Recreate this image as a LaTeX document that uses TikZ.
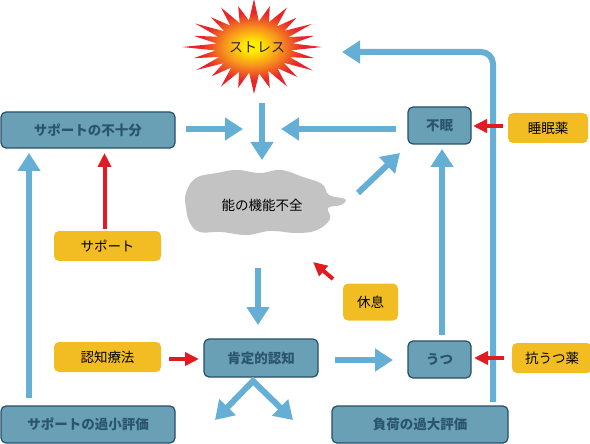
\documentclass[tikz,border=0pt]{standalone}
\usepackage{fontspec}
\setmainfont{Noto Sans CJK JP}
\usetikzlibrary{arrows.meta}
\definecolor{boxfill}{HTML}{6AA0B5}
\definecolor{boxline}{HTML}{24506C}
\definecolor{boxtext}{HTML}{2A5570}
\definecolor{arrblue}{HTML}{65AED6}
\definecolor{ylw}{HTML}{F2BD22}
\definecolor{redarr}{HTML}{E01B22}
\definecolor{cloudgray}{HTML}{C3C3C3}
\definecolor{burstred}{HTML}{E8262A}
\definecolor{burstorange}{HTML}{F7941D}
\definecolor{burstyellow}{HTML}{FFEA00}
\pgfdeclareradialshading{burst}{\pgfpoint{0bp}{0bp}}{color(0bp)=(burstyellow); color(3bp)=(burstyellow); color(10bp)=(burstorange); color(18bp)=(burstred); color(50bp)=(burstred)}
\tikzset{
  bluebox/.style={draw=boxline, line width=1.2pt, fill=boxfill, rounded corners=5pt, text=boxtext, font=\fontsize{13.5}{15}\selectfont\bfseries, inner sep=0pt},
  yelbox/.style={fill=ylw, rounded corners=5pt, text=black, font=\fontsize{13.5}{15}\selectfont, inner sep=0pt},
  bluearrow/.style={draw=arrblue, line width=6pt, -{Triangle[length=18pt,width=22pt]}},
  redarrow/.style={draw=redarr, line width=4pt, -{Triangle[length=14pt,width=13pt]}},
}
\begin{document}
\begin{tikzpicture}[x=1pt,y=-1pt]
\useasboundingbox (0,0) rectangle (590,444);
% stress burst
\begin{scope}[shift={(254,47)}]
\shade[shading=burst] (0:68 and 47) \foreach \a/\f in {7.5/0.55,15/0.92,22.5/0.57,30/1,37.5/0.55,45/0.9,52.5/0.57,60/0.97,67.5/0.55,75/0.9,82.5/0.57,90/1,97.5/0.55,105/0.9,112.5/0.57,120/0.97,127.5/0.55,135/0.88,142.5/0.57,150/0.98,157.5/0.55,165/0.92,172.5/0.57,180/1.06,187.5/0.55,195/0.92,202.5/0.57,210/1,217.5/0.55,225/0.9,232.5/0.57,240/0.97,247.5/0.55,255/0.9,262.5/0.57,270/1.02,277.5/0.55,285/0.9,292.5/0.57,300/0.97,307.5/0.55,315/0.88,322.5/0.57,330/0.98,337.5/0.55,345/0.92,352.5/0.57} {-- (\a:{68*\f} and {47*\f})} -- cycle;
\end{scope}
\node[font=\fontsize{14}{16}\selectfont, text=black!85] (stress) at (257,47) {ストレス};
% cloud
\fill[cloudgray] plot[smooth cycle, tension=0.7] coordinates {(186,193) (196,178) (217,173) (237,170) (260,173) (281,170) (303,177) (322,184) (329,195) (345,199) (341,205) (328,208) (330,219) (317,230) (297,233) (270,231) (247,235) (221,232) (200,232) (190,223) (186,208)};
\node[font=\fontsize{13.5}{15}\selectfont, text=black] (cloud) at (262,205) {能の機能不全};
% blue boxes
\node[bluebox, minimum width=174pt, minimum height=36pt] (supins) at (88,130) {サポートの不十分};
\node[bluebox, minimum width=63pt, minimum height=37pt] (fumin) at (439.5,125.5) {不眠};
\node[bluebox, minimum width=114pt, minimum height=38pt] (kotei) at (261,358) {肯定的認知};
\node[bluebox, minimum width=63pt, minimum height=37pt] (utsu) at (439.5,359.5) {うつ};
\node[bluebox, minimum width=174pt, minimum height=37pt] (supunder) at (88,424.5) {サポートの過小評価};
\node[bluebox, minimum width=176pt, minimum height=37pt] (fuka) at (420,424.5) {負荷の過大評価};
% yellow boxes
\node[yelbox, minimum width=80pt, minimum height=30pt] (suiminyaku) at (548,128) {睡眠薬};
\node[yelbox, minimum width=107pt, minimum height=30pt] (support) at (107.5,246) {サポート};
\node[yelbox, minimum width=55pt, minimum height=37pt] (kyusoku) at (370.5,302) {休息};
\node[yelbox, minimum width=107pt, minimum height=30pt] (ninchi) at (107.5,357) {認知療法};
\node[yelbox, minimum width=80pt, minimum height=30pt] (kou) at (552,358) {抗うつ薬};
% coordinates
\coordinate (a1s) at (186,129); \coordinate (a1e) at (243,129);
\coordinate (a2s) at (262,103); \coordinate (a2e) at (262,160);
\coordinate (a3s) at (396,129); \coordinate (a3e) at (281,129);
\coordinate (a4s) at (358,193); \coordinate (a4e) at (400,153);
\coordinate (a5s) at (258,268); \coordinate (a5e) at (258,325);
\coordinate (k2s) at (335,360); \coordinate (k2e) at (393,360);
\coordinate (u2s) at (442,335); \coordinate (u2e) at (442,149);
\coordinate (sls) at (29,398); \coordinate (sle) at (29,153);
\coordinate (rb) at (493,402);
\coordinate (kyuA) at (333,279); \coordinate (kyuB) at (313,262);
\coordinate (chL) at (215,420); \coordinate (chA) at (253,381); \coordinate (chR) at (293,420);
\coordinate (rcorner) at (493,52); \coordinate (stressTip) at (342,52);
\coordinate (r1s) at (503,126); \coordinate (r1e) at (473,126);
\coordinate (r2s) at (504,358); \coordinate (r2e) at (474,358);
\coordinate (r3s) at (169,359); \coordinate (r3e) at (199,359);
\coordinate (r4s) at (104.5,229); \coordinate (r4e) at (104.5,153);
% blue arrows
\draw[bluearrow] (a1s) -- (a1e);
\draw[bluearrow] (a2s) -- (a2e);
\draw[bluearrow] (a3s) -- (a3e);
\draw[bluearrow] (a4s) -- (a4e);
\draw[bluearrow] (a5s) -- (a5e);
\draw[bluearrow] (k2s) -- (k2e);
\draw[bluearrow] (u2s) -- (u2e);
\draw[bluearrow] (sls) -- (sle);
\draw[bluearrow, rounded corners=12pt] (rb) -- (rcorner) -- (stressTip);
\draw[draw=arrblue, line width=6pt, line join=miter, {Triangle[length=18pt,width=22pt]}-{Triangle[length=18pt,width=22pt]}] (chL) -- (chA) -- (chR);
% red arrows
\draw[redarrow] (r1s) -- (r1e);
\draw[redarrow] (r2s) -- (r2e);
\draw[redarrow] (r3s) -- (r3e);
\draw[redarrow] (r4s) -- (r4e);
\draw[redarrow] (kyuA) -- (kyuB);
\end{tikzpicture}
\end{document}
